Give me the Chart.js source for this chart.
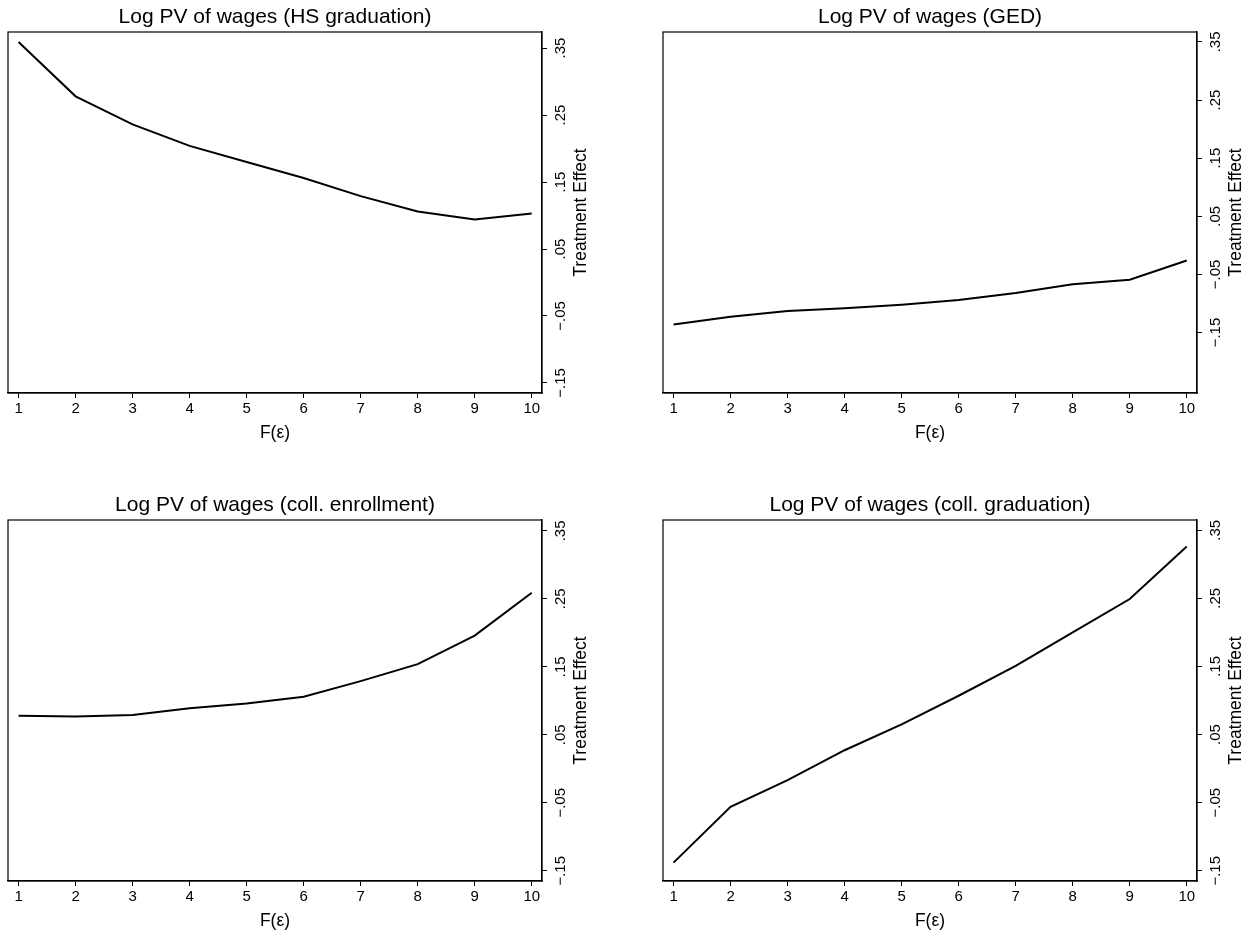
<!DOCTYPE html>
<html>
<head>
<meta charset="utf-8">
<script src="https://cdn.jsdelivr.net/npm/chart.js@4.4.1/dist/chart.umd.min.js"></script>
<style>
  html, body { margin: 0; padding: 0; background: #fff; }
  #wrap { position: relative; width: 1256px; height: 938px; overflow: hidden; }
  canvas { position: absolute; }
</style>
</head>
<body>
<div id="wrap">
  <canvas id="p1" width="600" height="450" style="left:0;top:0"></canvas>
  <canvas id="p2" width="600" height="450" style="left:655px;top:0"></canvas>
  <canvas id="p3" width="600" height="450" style="left:0;top:488px"></canvas>
  <canvas id="p4" width="600" height="450" style="left:655px;top:488px"></canvas>
</div>
<script>
// ── Data ─────────────────────────────────────────────────────────────────────

const decile = [1, 2, 3, 4, 5, 6, 7, 8, 9, 10]
const yTicks = [-0.15, -0.05, 0.05, 0.15, 0.25, 0.35]

const hsGrad = [0.359, 0.278, 0.236, 0.204, 0.180, 0.156, 0.129, 0.106, 0.094, 0.103]
const ged = [-0.136, -0.123, -0.113, -0.108, -0.102, -0.094, -0.082, -0.067, -0.059, -0.026]
const collEnroll = [0.078, 0.077, 0.079, 0.089, 0.096, 0.106, 0.129, 0.154, 0.196, 0.259]
const collGrad = [-0.138, -0.056, -0.017, 0.027, 0.065, 0.107, 0.151, 0.200, 0.249, 0.326]

const panels = [
  { id: 'p1', title: 'Log PV of wages (HS graduation)', values: hsGrad, yMin: -0.165, yMax: 0.374 },
  { id: 'p2', title: 'Log PV of wages (GED)', values: ged, yMin: -0.254, yMax: 0.367 },
  { id: 'p3', title: 'Log PV of wages (coll. enrollment)', values: collEnroll, yMin: -0.165, yMax: 0.366 },
  { id: 'p4', title: 'Log PV of wages (coll. graduation)', values: collGrad, yMin: -0.165, yMax: 0.365 }
]

const xTitle = 'F(ε)'
const yTitle = 'Treatment Effect'

// ── Look ─────────────────────────────────────────────────────────────────────

const FONT = '"Liberation Sans", Arial, Helvetica, sans-serif'
const BOX = { left: 8, top: 32, right: 542, bottom: 393 }

function fmtTick(v) {
  const s = Math.abs(v).toFixed(2).replace(/^0/, '')
  return (v < 0 ? '−' : '') + s
}

// frame, rotated y labels and titles, all placed from the chart's own scales
const stataDecor = {
  id: 'stataDecor',
  afterDraw(chart, args, opts) {
    const { ctx, chartArea: a, scales } = chart
    ctx.save()
    ctx.strokeStyle = '#000'
    ctx.lineWidth = 1.2
    ctx.strokeRect(a.left, a.top, a.right - a.left, a.bottom - a.top)

    ctx.fillStyle = '#000'
    ctx.textAlign = 'center'
    ctx.textBaseline = 'middle'

    // y tick labels, turned to read bottom-up
    ctx.font = `15px ${FONT}`
    for (const v of yTicks) {
      const y = scales.y.getPixelForValue(v)
      ctx.save()
      ctx.translate(a.right + 19, y)
      ctx.rotate(-Math.PI / 2)
      ctx.fillText(fmtTick(v), 0, 0)
      ctx.restore()
    }

    ctx.font = `17.5px ${FONT}`
    ctx.save()
    ctx.translate(a.right + 39, (a.top + a.bottom) / 2)
    ctx.rotate(-Math.PI / 2)
    ctx.fillText(yTitle, 0, 0)
    ctx.restore()

    ctx.fillText(xTitle, (a.left + a.right) / 2, a.bottom + 40)

    ctx.font = `21px ${FONT}`
    ctx.textBaseline = 'alphabetic'
    ctx.fillText(opts.title, (a.left + a.right) / 2, a.top - 9)
    ctx.restore()
  }
}

// ── Build ────────────────────────────────────────────────────────────────────

function makePanel(p) {
  const ctx = document.getElementById(p.id).getContext('2d')
  return new Chart(ctx, {
    type: 'line',
    data: {
      datasets: [{
        data: decile.map((x, i) => ({ x, y: p.values[i] })),
        borderColor: '#000',
        borderWidth: 2,
        pointRadius: 0,
        tension: 0,
        fill: false
      }]
    },
    options: {
      responsive: false,
      animation: false,
      devicePixelRatio: 1,
      layout: { padding: { left: BOX.left, top: BOX.top, right: 0, bottom: 0 } },
      plugins: {
        legend: { display: false },
        tooltip: { enabled: false },
        title: { display: false },
        stataDecor: { title: p.title }
      },
      scales: {
        x: {
          type: 'linear',
          min: 0.815,
          max: 10.18,
          afterBuildTicks: s => { s.ticks = decile.map(v => ({ value: v })) },
          afterFit: s => { s.height = 450 - BOX.bottom },
          ticks: { color: '#000', padding: 2, font: { family: FONT, size: 15 }, maxRotation: 0 },
          grid: { drawOnChartArea: false, drawTicks: true, tickLength: 5, tickColor: '#000' },
          border: { display: true, color: '#000', width: 1.2 }
        },
        y: {
          type: 'linear',
          position: 'right',
          min: p.yMin,
          max: p.yMax,
          afterBuildTicks: s => { s.ticks = yTicks.map(v => ({ value: v })) },
          afterFit: s => { s.width = 600 - BOX.right },
          ticks: { display: false },
          grid: { drawOnChartArea: false, drawTicks: true, tickLength: 5, tickColor: '#000' },
          border: { display: true, color: '#000', width: 1.2 }
        }
      }
    },
    plugins: [stataDecor]
  })
}

panels.forEach(makePanel)
</script>
</body>
</html>
